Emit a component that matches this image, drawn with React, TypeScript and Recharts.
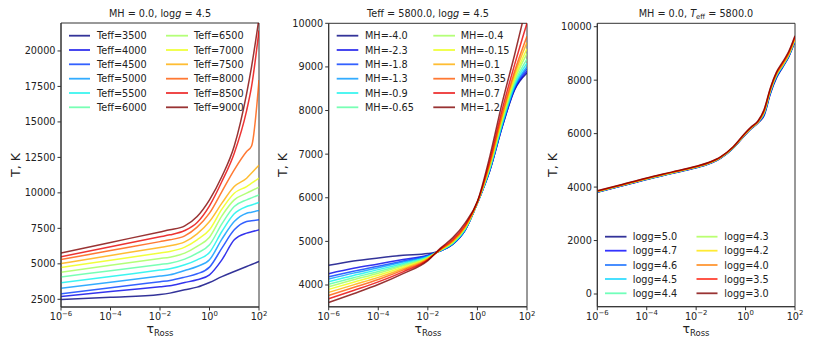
import { LineChart, Line, XAxis, YAxis, ReferenceArea } from 'recharts'

// log10(tau_Ross) sample points for each panel
const tauGrid1 = [-6, -4, -2, -1.6, -1, -0.5, 0, 0.5, 1, 1.5, 1.7, 2]
const tauGrid2 = [-6, -5, -4, -3, -2, -1.5, -1, -0.5, 0, 0.5, 1, 1.5, 2]
const tauGrid3 = [-6, -5, -4, -3, -2, -1.5, -1, -0.5, 0, 0.25, 0.5, 0.75, 1, 1.25, 1.5, 1.75, 2]

// panel 1: MH = 0.0, logg = 4.5
const teffLabels = ['3500', '4000', '4500', '5000', '5500', '6000', '6500', '7000', '7500', '8000', '8500', '9000']
const teffProfiles = [
  [2480, 2640, 2840, 2936, 3171, 3358, 3687, 4100, 4462, 4814, 4950, 5166],
  [2690, 3047, 3384, 3452, 3687, 3875, 4227, 5283, 6691, 7161, 7255, 7395],
  [2880, 3322, 3744, 3828, 4062, 4297, 4767, 6105, 7395, 7982, 8030, 8099],
  [3275, 3710, 4141, 4227, 4532, 4814, 5283, 6738, 7982, 8569, 8640, 8756],
  [3660, 4110, 4559, 4649, 4931, 5283, 5800, 7278, 8522, 9038, 9150, 9320],
  [4080, 4520, 4960, 5048, 5330, 5752, 6339, 7818, 9038, 9508, 9650, 9860],
  [4410, 4892, 5374, 5471, 5752, 6222, 6879, 8381, 9508, 9977, 10150, 10399],
  [4740, 5254, 5767, 5870, 6175, 6691, 7395, 8850, 9977, 10446, 10680, 11033],
  [5020, 5588, 6155, 6269, 6550, 7114, 7982, 9273, 10446, 11033, 11400, 11950],
  [5300, 5932, 6564, 6691, 6972, 7583, 8569, 10094, 11620, 12910, 13300, 17950],
  [5500, 6201, 6903, 7043, 7348, 7912, 9085, 10798, 12800, 15800, 17500, 21450],
  [5765, 6506, 7247, 7395, 7677, 8334, 9508, 11150, 13300, 17000, 18900, 22300],
]

// panel 2: Teff = 5800, logg = 4.5
const mhLabels = ['-4.0', '-2.3', '-1.8', '-1.3', '-0.9', '-0.65', '-0.4', '-0.15', '0.1', '0.35', '0.7', '1.2']
const mhProfiles = [
  [4450, 4550, 4620, 4680, 4720, 4780, 4930, 5250, 5880, 6620, 7620, 8470, 8860],
  [4260, 4382, 4483, 4586, 4684, 4782, 4934, 5254, 5881, 6628, 7634, 8490, 8900],
  [4186, 4317, 4431, 4550, 4670, 4784, 4939, 5260, 5882, 6640, 7654, 8519, 8955],
  [4135, 4272, 4394, 4525, 4661, 4785, 4944, 5265, 5884, 6650, 7670, 8543, 9003],
  [4076, 4220, 4352, 4495, 4650, 4788, 4951, 5274, 5886, 6666, 7698, 8583, 9083],
  [4016, 4167, 4309, 4466, 4638, 4792, 4960, 5284, 5888, 6686, 7732, 8632, 9178],
  [3960, 4118, 4269, 4438, 4628, 4797, 4972, 5298, 5891, 6712, 7777, 8697, 9305],
  [3900, 4065, 4225, 4408, 4616, 4801, 4983, 5310, 5894, 6736, 7816, 8754, 9417],
  [3830, 4003, 4175, 4374, 4603, 4806, 4996, 5325, 5898, 6765, 7866, 8826, 9560],
  [3761, 3942, 4126, 4340, 4590, 4812, 5010, 5340, 5901, 6795, 7917, 8899, 9703],
  [3685, 3875, 4071, 4302, 4576, 4823, 5038, 5372, 5909, 6858, 8023, 9053, 10005],
  [3600, 3800, 4010, 4260, 4560, 4840, 5080, 5420, 5920, 6950, 8180, 9280, 10450],
]

// panel 3: MH = 0.0, Teff = 5800
const loggLabels = ['5.0', '4.7', '4.6', '4.5', '4.4', '4.3', '4.2', '4.0', '3.5', '3.0']
const loggProfiles = [
  [3805, 4045, 4285, 4505, 4725, 4865, 5085, 5455, 5970, 6200, 6400, 6680, 7480, 8080, 8480, 8880, 9460],
  [3812, 4052, 4292, 4512, 4732, 4872, 5092, 5462, 5980, 6210, 6410, 6710, 7510, 8110, 8500, 8900, 9480],
  [3818, 4058, 4298, 4518, 4738, 4878, 5098, 5468, 5985, 6215, 6415, 6735, 7535, 8135, 8515, 8915, 9495],
  [3824, 4064, 4304, 4524, 4744, 4884, 5104, 5474, 5992, 6222, 6422, 6760, 7560, 8160, 8530, 8930, 9510],
  [3827, 4067, 4307, 4527, 4747, 4887, 5107, 5477, 5996, 6226, 6426, 6780, 7580, 8180, 8545, 8945, 9525],
  [3830, 4070, 4310, 4530, 4750, 4890, 5110, 5480, 6000, 6230, 6430, 6800, 7600, 8200, 8560, 8960, 9540],
  [3834, 4074, 4314, 4534, 4754, 4894, 5114, 5484, 6005, 6235, 6435, 6815, 7615, 8215, 8575, 8975, 9555],
  [3840, 4080, 4320, 4540, 4760, 4900, 5120, 5490, 6010, 6240, 6440, 6835, 7635, 8235, 8595, 8995, 9575],
  [3850, 4090, 4330, 4550, 4770, 4910, 5130, 5500, 6025, 6255, 6455, 6870, 7670, 8270, 8640, 9040, 9620],
  [3860, 4100, 4340, 4560, 4780, 4920, 5140, 5510, 6040, 6270, 6470, 6900, 7700, 8300, 8680, 9080, 9660],
]

const xTicks = [-6, -4, -2, 0, 2]
const yTicks1 = [2500, 5000, 7500, 10000, 12500, 15000, 17500, 20000]
const yTicks2 = [4000, 5000, 6000, 7000, 8000, 9000, 10000]
const yTicks3 = [0, 2000, 4000, 6000, 8000, 10000]

// jet colormap samples
const jet12 = ['#000080', '#0000e9', '#003aff', '#0097ff', '#0bf3ec', '#56ffa1', '#a1ff56', '#ecff0b', '#ffad00', '#ff5700', '#e90100', '#800000']
const jet10 = ['#000080', '#0000ff', '#0063ff', '#00d4ff', '#4effa9', '#a9ff4d', '#ffe500', '#ff7d00', '#ff1400', '#800000']

const FONT = 'DejaVu Sans, sans-serif'
const AXIS = '#333'
const FS = 9.7

function buildRows(grid: number[], profiles: number[][]) {
  return grid.map((lg, i) => {
    const row: Record<string, number> = { lg }
    profiles.forEach((p, j) => {
      row['s' + j] = p[i]
    })
    return row
  })
}

function LogTick(props: any) {
  const { x, y, payload } = props
  const v = payload.value
  const exp = v < 0 ? '\u2212' + Math.abs(v) : String(v)
  return (
    <text x={x} y={y + 7.8} textAnchor="middle" fontFamily={FONT} fontSize={FS} fill="#222">
      <tspan>10</tspan>
      <tspan dy={-4.6} fontSize={6.9}>{exp}</tspan>
    </text>
  )
}

type PanelProps = {
  left: number
  width: number
  margin: { top: number; right: number; bottom: number; left: number }
  grid: number[]
  profiles: number[][]
  colors: string[]
  yDomain: [number, number]
  yTicks: number[]
}

function Panel({ left, width, margin, grid, profiles, colors, yDomain, yTicks }: PanelProps) {
  const rows = buildRows(grid, profiles)
  return (
    <div style={{ position: 'absolute', left, top: 0 }}>
      <LineChart width={width} height={349} data={rows} margin={margin}>
        <XAxis
          dataKey="lg"
          type="number"
          domain={[-6, 2]}
          ticks={xTicks}
          allowDataOverflow
          height={30}
          tick={<LogTick />}
          tickSize={3.5}
          tickMargin={2}
          stroke={AXIS}
        />
        <YAxis
          type="number"
          domain={yDomain}
          ticks={yTicks}
          allowDataOverflow
          width={50}
          tickSize={3.5}
          tickMargin={2}
          stroke={AXIS}
          tick={{ fontSize: FS, fontFamily: FONT, fill: '#222' }}
        />
        {profiles.map((_, i) => (
          <Line
            key={i}
            dataKey={'s' + i}
            type="monotone"
            stroke={colors[i]}
            strokeOpacity={0.8}
            strokeWidth={1.5}
            dot={false}
            activeDot={false}
            isAnimationActive={false}
          />
        ))}
        {/* axes frame */}
        <ReferenceArea
          x1={-6}
          x2={2}
          y1={yDomain[0]}
          y2={yDomain[1]}
          fill="none"
          fillOpacity={0}
          stroke={AXIS}
          strokeWidth={1}
          ifOverflow="visible"
        />
      </LineChart>
    </div>
  )
}

function LegendBlock({ labels, prefix, colors, cols, rowY }: { labels: string[]; prefix: string; colors: string[]; cols: { x1: number; x2: number; tx: number }[]; rowY: number[] }) {
  const half = Math.ceil(labels.length / 2)
  return (
    <g>
      {labels.map((l, i) => {
        const c = cols[i < half ? 0 : 1]
        const y = rowY[i % half]
        return (
          <g key={i}>
            <line x1={c.x1} x2={c.x2} y1={y} y2={y} stroke={colors[i]} strokeOpacity={0.8} strokeWidth={1.8} />
            <text x={c.tx} y={y + 3.5} fontFamily={FONT} fontSize={FS} fill="#222">
              {prefix + '=' + l}
            </text>
          </g>
        )
      })}
    </g>
  )
}

function XLabel({ cx }: { cx: number }) {
  return (
    <text x={cx} y={333} textAnchor="middle" fontFamily={FONT} fontSize={12.5} fill="#222">
      τ<tspan fontSize={8.5} dy={3}>Ross</tspan>
    </text>
  )
}

function YLabel({ x }: { x: number }) {
  return (
    <text x={x} y={165} transform={`rotate(-90 ${x} 165)`} textAnchor="middle" fontFamily={FONT} fontSize={12.5} fill="#222">
      T, K
    </text>
  )
}

const rowsTop = [35.7, 50, 64.3, 78.7, 93, 107.3]
const rowsBottom = [236.7, 250.7, 265, 279, 293.3]

export default function App() {
  return (
    <div style={{ position: 'absolute', left: 0, top: 0, width: 814, height: 349, background: '#fff', overflow: 'hidden' }}>
      <Panel
        left={0}
        width={270}
        margin={{ top: 23, right: 11, bottom: 12, left: 11 }}
        grid={tauGrid1}
        profiles={teffProfiles}
        colors={jet12}
        yDomain={[1958, 21970]}
        yTicks={yTicks1}
      />
      <Panel
        left={270}
        width={270}
        margin={{ top: 23.3, right: 13, bottom: 12.2, left: 8.7 }}
        grid={tauGrid2}
        profiles={mhProfiles}
        colors={jet12}
        yDomain={[3500, 10000]}
        yTicks={yTicks2}
      />
      <Panel
        left={540}
        width={274}
        margin={{ top: 23.3, right: 19, bottom: 12.3, left: 7.3 }}
        grid={tauGrid3}
        profiles={loggProfiles}
        colors={jet10}
        yDomain={[-475, 10127]}
        yTicks={yTicks3}
      />
      <svg width={814} height={349} style={{ position: 'absolute', left: 0, top: 0, pointerEvents: 'none' }}>
        <text x={160} y={17} textAnchor="middle" fontFamily={FONT} fontSize={FS} fill="#222">
          {'MH = 0.0, log'}<tspan fontStyle="italic">g</tspan>{' = 4.5'}
        </text>
        <text x={428} y={17} textAnchor="middle" fontFamily={FONT} fontSize={FS} fill="#222">
          {'Teff = 5800.0, log'}<tspan fontStyle="italic">g</tspan>{' = 4.5'}
        </text>
        <text x={696} y={17} textAnchor="middle" fontFamily={FONT} fontSize={FS} fill="#222">
          {'MH = 0.0, '}<tspan fontStyle="italic">T</tspan>
          <tspan fontSize={6.9} dy={2}>eff</tspan>
          <tspan dy={-2}>{' = 5800.0'}</tspan>
        </text>
        <XLabel cx={160} />
        <XLabel cx={428} />
        <XLabel cx={696} />
        <YLabel x={20} />
        <YLabel x={286.7} />
        <YLabel x={556.7} />
        <LegendBlock
          labels={teffLabels}
          prefix="Teff"
          colors={jet12}
          cols={[{ x1: 69, x2: 90, tx: 97 }, { x1: 166, x2: 188, tx: 194 }]}
          rowY={rowsTop}
        />
        <LegendBlock
          labels={mhLabels}
          prefix="MH"
          colors={jet12}
          cols={[{ x1: 336.7, x2: 358.3, tx: 365 }, { x1: 433.3, x2: 455, tx: 460.7 }]}
          rowY={rowsTop}
        />
        <LegendBlock
          labels={loggLabels}
          prefix="logg"
          colors={jet10}
          cols={[{ x1: 605, x2: 626.5, tx: 632.7 }, { x1: 696.5, x2: 717.5, tx: 724.3 }]}
          rowY={rowsBottom}
        />
      </svg>
    </div>
  )
}
